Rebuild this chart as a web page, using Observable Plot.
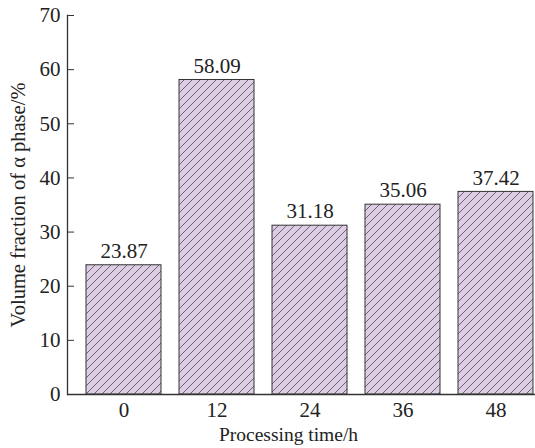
<!DOCTYPE html>
<html><head><meta charset="utf-8">
<script src="https://cdn.jsdelivr.net/npm/d3@7"></script>
<script src="https://cdn.jsdelivr.net/npm/@observablehq/plot@0.6"></script>
<style>body{margin:0;background:#fff;overflow:hidden}</style>
</head><body><div id="chart"></div>
<script>
const times = ["0", "12", "24", "36", "48"];
const fractions = [23.87, 58.09, 31.18, 35.06, 37.42];
const valueLabels = ["23.87", "58.09", "31.18", "35.06", "37.42"];
const yTicks = [0, 10, 20, 30, 40, 50, 60, 70];
const xTitle = "Processing time/h";
const yTitle = "Volume fraction of α phase/%";

const data = times.map((t, i) => ({time: t, value: fractions[i], label: valueLabels[i]}));
const font = "'Liberation Serif','Times New Roman',serif";

const chart = Plot.plot({
  width: 535, height: 448,
  marginLeft: 67, marginRight: 0, marginTop: 15, marginBottom: 54,
  style: {fontFamily: font, fontSize: "21px", color: "#222", background: "#fff", overflow: "hidden"},
  x: {domain: times, range: [67, 552], paddingInner: 0.19, paddingOuter: 0.18},
  y: {domain: [0, 70]},
  marks: [
    Plot.barY(data, {x: "time", y: "value", fill: "url(#hatch)", stroke: "#333", strokeWidth: 1}),
    Plot.text(data, {x: "time", y: "value", text: "label", dy: -14, lineAnchor: "middle", fontSize: 21, fill: "#222"}),
    Plot.axisY(yTicks, {tickSize: -7, tickPadding: 14, label: null, stroke: "#333", fontSize: 21}),
    Plot.axisX({tickSize: 0, tickPadding: 8, label: null, fontSize: 21}),
    Plot.ruleY([0], {stroke: "#333", strokeWidth: 1.3}),
    Plot.frame({anchor: "left", stroke: "#333", strokeWidth: 1.3}),
    Plot.text([xTitle], {frameAnchor: "bottom", lineAnchor: "middle", textAnchor: "middle", dy: 40, dx: -13, fontSize: 19.5, fill: "#222"}),
    Plot.text([yTitle], {frameAnchor: "left", rotate: -90, lineAnchor: "middle", textAnchor: "middle", dx: -49, fontSize: 20.5, fill: "#222"})
  ]
});

const svg = chart.tagName.toLowerCase() === "svg" ? chart : chart.querySelector("svg");
const defs = d3.select(svg).insert("defs", ":first-child");
const pat = defs.append("pattern")
  .attr("id", "hatch")
  .attr("patternUnits", "userSpaceOnUse")
  .attr("width", 8).attr("height", 8);
pat.append("rect").attr("width", 8).attr("height", 8).attr("fill", "#ddcde4");
pat.append("path")
  .attr("d", "M-1,1L1,-1M0,8L8,0M7,9L9,7")
  .attr("stroke", "#3a3a3a").attr("stroke-width", 0.7);

document.getElementById("chart").appendChild(chart);
</script>
</body></html>
